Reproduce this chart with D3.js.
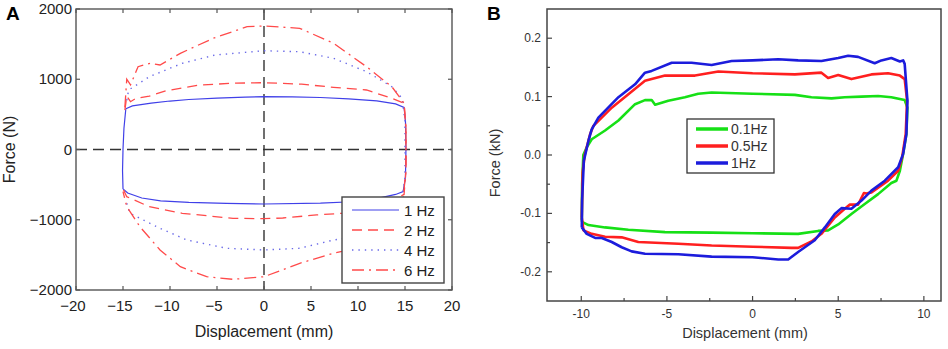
<!DOCTYPE html>
<html>
<head>
<meta charset="utf-8">
<script src="https://cdn.jsdelivr.net/npm/d3@7"></script>
<style>
  body { margin: 0; background: #fff; }
  svg { display: block; font-family: "Liberation Sans", Arial, sans-serif; }
</style>
</head>
<body>
<div class="chart-area"></div>
<script>
// ---------- panel A data (displacement mm, force N) ----------
const hz1 = [[-14.7,580],[-14,620],[-12,660],[-10,690],[-8,712],[-5,732],[-2,746],[0,752],[3,750],[6,740],[9,722],[12,692],[14,650],[14.9,600],
  [15.05,400],[15.1,0],[15.05,-400],[14.8,-600],[14,-640],[12,-700],[10,-740],[6,-762],[0,-776],[-4,-766],[-8,-752],[-11,-730],[-13,-690],
  [-14.5,-620],[-15,-560],[-15.05,-300],[-15,0],[-14.9,300],[-14.7,580]];
const hz2 = [[-14.8,560],[-14.6,760],[-14.2,680],[-13.6,730],[-12.2,760],[-10.4,837],[-6.9,918],[-3,945],[0,951],[4,930],[7.4,885],[10.9,847],[13.6,729],[14.9,658],
  [15.1,300],[15.1,-300],[14.9,-640],[13,-760],[10,-860],[8.3,-908],[5.6,-932],[2,-975],[0,-985],[-3.3,-980],[-8.7,-908],[-12.2,-814],[-14.6,-672],[-15,-560]];
const hz4 = [[-14.6,700],[-14.4,847],[-12.2,1036],[-8.7,1227],[-5.2,1345],[0,1406],[3.8,1392],[7.4,1298],[10.9,1108],[13.6,894],[14.7,729],
  [15,400],[15,-400],[14.6,-800],[12,-1100],[8.3,-1270],[7.4,-1288],[3.8,-1406],[0,-1430],[-4,-1406],[-8.2,-1288],[-11.06,-1122],[-14.26,-908],[-14.6,-766]];
const hz6 = [[-14.8,600],[-14.6,1000],[-14.2,920],[-13.4,1179],[-12.1,1227],[-11.06,1203],[-8.9,1369],[-5.4,1583],[-1.8,1748],[0,1758],[3.8,1725],[7.4,1512],[10.9,1179],[13.6,894],[14.9,658],
  [15.1,300],[15.1,-300],[14.8,-700],[12,-1200],[8.3,-1450],[7.4,-1477],[3.8,-1620],[0,-1811],[-3.3,-1848],[-6.1,-1811],[-8.9,-1668],[-11.06,-1430],[-13.2,-1099],[-14.6,-814],[-15,-600]];
const namesA = ["1 Hz", "2 Hz", "4 Hz", "6 Hz"];
const xTicksA = [-20, -15, -10, -5, 0, 5, 10, 15, 20];
const yTicksA = [-2000, -1000, 0, 1000, 2000];

// ---------- panel B data (displacement mm, force kN) ----------
const b01 = [[-9.97,-0.112],[-9.95,-0.05],[-9.88,0.0],[-9.68,0.013],[-9.39,0.027],[-8.61,0.042],[-7.83,0.059],[-6.86,0.087],[-6.28,0.094],[-5.89,0.094],[-5.69,0.086],[-4.92,0.093],[-3.95,0.099],[-3.17,0.105],[-2.39,0.107],[0,0.105],[2.47,0.103],[3.44,0.099],[4.61,0.097],[5.38,0.099],[6.36,0.1],[7.33,0.101],[8.1,0.099],[8.88,0.094],
  [9.04,0.081],[8.98,0.036],[8.79,0.002],[8.6,-0.027],[8.4,-0.044],[8.1,-0.048],[7.33,-0.067],[6.55,-0.084],[5.77,-0.101],[5.0,-0.119],[4.41,-0.129],[3.83,-0.13],[2.66,-0.135],[0,-0.134],[-2.39,-0.133],[-5.11,-0.132],[-7.25,-0.128],[-8.61,-0.124],[-9.58,-0.12],[-9.93,-0.115],[-9.97,-0.112]];
const b05 = [[-9.97,-0.107],[-9.92,-0.03],[-9.8,0.0],[-9.48,0.036],[-9.29,0.05],[-8.22,0.081],[-7.25,0.104],[-6.28,0.127],[-5.11,0.136],[-3.36,0.136],[-2.0,0.143],[0,0.14],[2.47,0.138],[4.02,0.141],[4.41,0.132],[5.0,0.137],[5.77,0.13],[6.94,0.138],[7.91,0.14],[8.6,0.136],[8.88,0.13],
  [9.02,0.093],[8.94,0.036],[8.73,-0.004],[8.5,-0.027],[7.91,-0.044],[6.94,-0.064],[6.65,-0.066],[6.5,-0.065],[6.16,-0.085],[5.68,-0.085],[5.38,-0.092],[4.8,-0.107],[4.02,-0.135],[3.44,-0.148],[2.66,-0.159],[2.27,-0.159],[0,-0.157],[-2.39,-0.155],[-4.33,-0.152],[-6.67,-0.149],[-7.64,-0.141],[-8.61,-0.14],[-9.39,-0.135],[-9.87,-0.129],[-9.97,-0.107]];
const b1 = [[-9.97,-0.124],[-9.95,-0.078],[-9.85,-0.01],[-9.58,0.0245],[-9.39,0.044],[-9.0,0.064],[-7.83,0.099],[-6.86,0.121],[-6.28,0.141],[-5.89,0.144],[-4.72,0.158],[-3.56,0.158],[-2.39,0.154],[-1.22,0.161],[0,0.162],[1.5,0.164],[2.66,0.162],[4.02,0.161],[5.0,0.166],[5.58,0.17],[6.16,0.168],[7.13,0.157],[7.52,0.162],[8.1,0.166],[8.6,0.16],[8.79,0.162],[8.88,0.156],
  [9.04,0.093],[8.98,0.036],[8.79,0.002],[8.5,-0.021],[7.72,-0.044],[6.94,-0.061],[6.36,-0.078],[5.77,-0.092],[5.19,-0.091],[4.8,-0.101],[4.22,-0.124],[3.63,-0.146],[2.66,-0.166],[2.08,-0.179],[1.5,-0.179],[0,-0.175],[-2.39,-0.174],[-4.33,-0.17],[-6.28,-0.169],[-7.06,-0.165],[-7.64,-0.158],[-8.22,-0.149],[-8.8,-0.142],[-9.19,-0.142],[-9.68,-0.135],[-9.97,-0.124]];
const namesB = ["0.1Hz", "0.5Hz", "1Hz"];
const xTicksB = [-10, -5, 0, 5, 10];
const xMinorB = [-7.5, -2.5, 2.5, 7.5];
const yTicksB = [-0.2, -0.1, 0, 0.1, 0.2];
const yMinorB = [-0.15, -0.05, 0.05, 0.15];
const yLabelsB = ["-0.2", "-0.1", "0.0", "0.1", "0.2"];

const width = 948, height = 349;
const svg = d3.select('.chart-area').append('svg').attr('width', width).attr('height', height);

// ================= Panel A =================
const A = { left: 76, right: 452, top: 9, bottom: 290 };
const xA = d3.scaleLinear().domain([-20, 20]).range([A.left, A.right]);
const yA = d3.scaleLinear().domain([-2000, 2000]).range([A.bottom, A.top]);
const gA = svg.append("g");

gA.append("line").attr("x1", xA(0)).attr("x2", xA(0)).attr("y1", A.top).attr("y2", A.bottom)
  .attr("stroke", "#333").attr("stroke-width", 1.4).attr("stroke-dasharray", "11,6");
gA.append("line").attr("x1", A.left).attr("x2", A.right).attr("y1", yA(0)).attr("y2", yA(0))
  .attr("stroke", "#333").attr("stroke-width", 1.4).attr("stroke-dasharray", "11,6");

const lineA = d3.line().x(d => xA(d[0])).y(d => yA(d[1]));
const stylesA = [
  { data: hz1, color: "#4040e8", dash: null, w: 1.2 },
  { data: hz2, color: "#ff4a4a", dash: "10,6", w: 1.3 },
  { data: hz4, color: "#6a6ae8", dash: "1.4,5", w: 1.4 },
  { data: hz6, color: "#ff4a4a", dash: "12,5,2,5", w: 1.3 }
];
stylesA.forEach(s => {
  gA.append("path").datum(s.data).attr("d", lineA).attr("fill", "none")
    .attr("stroke", s.color).attr("stroke-width", s.w).attr("stroke-dasharray", s.dash);
});

// frame + inward ticks
gA.append("rect").attr("x", A.left).attr("y", A.top).attr("width", A.right - A.left).attr("height", A.bottom - A.top)
  .attr("fill", "none").attr("stroke", "#555").attr("stroke-width", 1.4);
const tA = gA.append("g").attr("stroke", "#555").attr("stroke-width", 1.2);
xTicksA.forEach(v => {
  tA.append("line").attr("x1", xA(v)).attr("x2", xA(v)).attr("y1", A.bottom).attr("y2", A.bottom - 4);
  tA.append("line").attr("x1", xA(v)).attr("x2", xA(v)).attr("y1", A.top).attr("y2", A.top + 4);
});
yTicksA.forEach(v => {
  tA.append("line").attr("x1", A.left).attr("x2", A.left + 4).attr("y1", yA(v)).attr("y2", yA(v));
  tA.append("line").attr("x1", A.right).attr("x2", A.right - 4).attr("y1", yA(v)).attr("y2", yA(v));
});
const fmtA = d3.format("d");
gA.selectAll(".xlab").data(xTicksA).join("text").attr("x", d => xA(d) - (d < 0 ? 3 : 0)).attr("y", 311)
  .attr("text-anchor", "middle").attr("font-size", 15).attr("fill", "#222").text(d => fmtA(d));
gA.selectAll(".ylab").data(yTicksA).join("text").attr("x", 72).attr("y", d => yA(d) + 5)
  .attr("text-anchor", "end").attr("font-size", 15).attr("fill", "#222").text(d => fmtA(d));
gA.append("text").attr("x", xA(0)).attr("y", 337).attr("text-anchor", "middle").attr("font-size", 16)
  .attr("fill", "#222").text("Displacement (mm)");
gA.append("text").attr("transform", `translate(15,${yA(0)}) rotate(-90)`).attr("text-anchor", "middle")
  .attr("font-size", 16).attr("fill", "#222").text("Force (N)");
gA.append("text").attr("x", 6).attr("y", 20).attr("font-size", 19).attr("font-weight", "bold").text("A");

// legend A
const legA = gA.append("g");
legA.append("rect").attr("x", 342).attr("y", 197).attr("width", 102).attr("height", 86)
  .attr("fill", "#fff").attr("stroke", "#444").attr("stroke-width", 1.4);
stylesA.forEach((s, i) => {
  const y = 210 + i * 20;
  legA.append("line").attr("x1", 352).attr("x2", 399).attr("y1", y).attr("y2", y)
    .attr("stroke", s.color).attr("stroke-width", s.w).attr("stroke-dasharray", s.dash);
  legA.append("text").attr("x", 404).attr("y", y + 5.5).attr("font-size", 15).attr("fill", "#222").text(namesA[i]);
});

// ================= Panel B =================
const B = { left: 547, right: 941, top: 9, bottom: 301 };
const xB = d3.scaleLinear().domain([-12, 11]).range([B.left, B.right]);
const yB = d3.scaleLinear().domain([-0.25, 0.25]).range([B.bottom, B.top]);
const gB = svg.append("g");
const lineB = d3.line().x(d => xB(d[0])).y(d => yB(d[1]));
const stylesB = [
  { data: b01, color: "#16e016" },
  { data: b05, color: "#ff1f1f" },
  { data: b1, color: "#1c1cdc" }
];
stylesB.forEach(s => {
  gB.append("path").datum(s.data).attr("d", lineB).attr("fill", "none")
    .attr("stroke", s.color).attr("stroke-width", 2.6).attr("stroke-linejoin", "round");
});

gB.append("rect").attr("x", B.left).attr("y", B.top).attr("width", B.right - B.left).attr("height", B.bottom - B.top)
  .attr("fill", "none").attr("stroke", "#444").attr("stroke-width", 1.5);
const tB = gB.append("g").attr("stroke", "#444").attr("stroke-width", 1.2);
xTicksB.forEach(v => tB.append("line").attr("x1", xB(v)).attr("x2", xB(v)).attr("y1", B.bottom).attr("y2", B.bottom - 5));
xMinorB.forEach(v => tB.append("line").attr("x1", xB(v)).attr("x2", xB(v)).attr("y1", B.bottom).attr("y2", B.bottom - 3));
yTicksB.forEach(v => tB.append("line").attr("x1", B.left).attr("x2", B.left + 5).attr("y1", yB(v)).attr("y2", yB(v)));
yMinorB.forEach(v => tB.append("line").attr("x1", B.left).attr("x2", B.left + 3).attr("y1", yB(v)).attr("y2", yB(v)));

gB.selectAll(".xlab").data(xTicksB).join("text").attr("x", d => xB(d)).attr("y", 318)
  .attr("text-anchor", "middle").attr("font-size", 12).attr("fill", "#333").text(d => String(d));
gB.selectAll(".ylab").data(yTicksB).join("text").attr("x", 541).attr("y", d => yB(d) + 4)
  .attr("text-anchor", "end").attr("font-size", 12).attr("fill", "#333").text((d, i) => yLabelsB[i]);
gB.append("text").attr("x", 745).attr("y", 338).attr("text-anchor", "middle").attr("font-size", 14.5)
  .attr("fill", "#333").text("Displacement (mm)");
gB.append("text").attr("transform", `translate(500,163) rotate(-90)`).attr("text-anchor", "middle")
  .attr("font-size", 14.5).attr("fill", "#333").text("Force (kN)");
gB.append("text").attr("x", 487).attr("y", 20).attr("font-size", 19).attr("font-weight", "bold").text("B");

const legB = gB.append("g");
legB.append("rect").attr("x", 687).attr("y", 119).attr("width", 87).attr("height", 54)
  .attr("fill", "#fff").attr("stroke", "#333").attr("stroke-width", 1.3);
stylesB.forEach((s, i) => {
  const y = 129 + i * 17;
  legB.append("line").attr("x1", 696).attr("x2", 728).attr("y1", y).attr("y2", y)
    .attr("stroke", s.color).attr("stroke-width", 3.5);
  legB.append("text").attr("x", 731).attr("y", y + 5).attr("font-size", 14).attr("fill", "#333").text(namesB[i]);
});
</script>
</body>
</html>
